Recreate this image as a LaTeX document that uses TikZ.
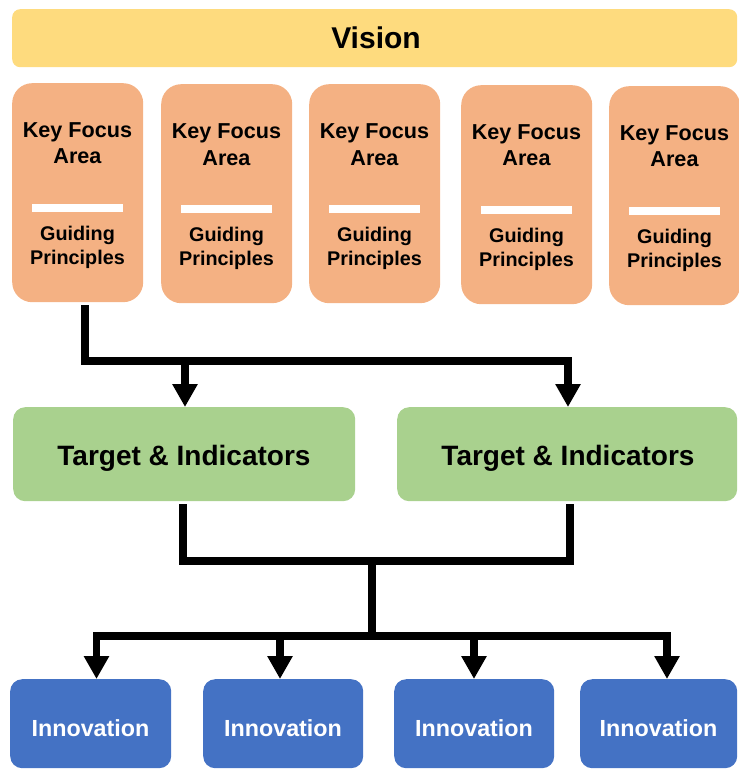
\documentclass[tikz,border=0pt]{standalone}
\usepackage{fontspec}
\setmainfont{Liberation Sans}
\usetikzlibrary{arrows.meta}
\definecolor{visionY}{HTML}{FEDB7E}
\definecolor{kfaO}{HTML}{F4B183}
\definecolor{tiG}{HTML}{A9D18E}
\definecolor{innB}{HTML}{4472C4}
\tikzset{
  kfabox/.style={fill=kfaO, draw=none, rounded corners=20pt, minimum width=131pt, minimum height=219pt, anchor=north west, inner sep=0pt},
  kfatxt/.style={font=\fontsize{21.6}{26}\selectfont\bfseries, anchor=base, inner sep=0pt},
  gptxt/.style={font=\fontsize{19.8}{24}\selectfont\bfseries, anchor=base, inner sep=0pt},
  titxt/.style={font=\fontsize{28}{32}\selectfont\bfseries, anchor=base, inner sep=0pt},
  inntxt/.style={font=\fontsize{23.3}{28}\selectfont\bfseries, text=white, anchor=base, inner sep=0pt},
  tibox/.style={fill=tiG, draw=none, rounded corners=12pt, minimum height=94pt, anchor=north west, inner sep=0pt},
  innbox/.style={fill=innB, draw=none, rounded corners=12pt, minimum height=89pt, anchor=north west, inner sep=0pt},
  conn/.style={line width=7.5pt, black},
  arr/.style={conn, -{Triangle[width=24pt,length=23pt]}}
}
\begin{document}
\begin{tikzpicture}[x=1pt,y=-1pt]
\useasboundingbox (0,0) rectangle (738,770);
% Vision
\node[fill=visionY, rounded corners=8pt, minimum width=725pt, minimum height=58pt, anchor=north west, inner sep=0pt] (vision) at (12,9) {};
\node[font=\fontsize{30}{34}\selectfont\bfseries, anchor=base, inner sep=0pt] (visiontxt) at (376,49) {Vision};
% Key focus area boxes
\foreach \i/\x/\y in {1/12/83, 2/161/84, 3/309/84, 4/461/85, 5/609/86}{
  \node[kfabox] (kfa\i) at (\x,\y) {};
  \node[kfatxt] (kfaA\i) at (\x+65.5,\y+55) {Key Focus};
  \node[kfatxt] (kfaB\i) at (\x+65.5,\y+81) {Area};
  \node[fill=white, minimum width=91pt, minimum height=8pt, inner sep=0pt, anchor=north] (bar\i) at (\x+65.5,\y+121) {};
  \node[gptxt] (gpA\i) at (\x+65.5,\y+157) {Guiding};
  \node[gptxt] (gpB\i) at (\x+65.5,\y+181) {Principles};
}
% Target boxes
\node[tibox, minimum width=342pt] (ti1) at (13,407) {};
\node[titxt] (ti1t) at (184,465) {Target \& Indicators};
\node[tibox, minimum width=340pt] (ti2) at (397,407) {};
\node[titxt] (ti2t) at (568,465) {Target \& Indicators};
% Innovation boxes
\foreach \i/\x/\w in {1/10/161, 2/203/160, 3/394/160, 4/580/157}{
  \node[innbox, minimum width=\w pt] (in\i) at (\x,679) {};
  \node[inntxt] (in\i t) at (\x+\w/2,736) {Innovation};
}
% Upper connectors
\coordinate (s1) at (85,305);
\draw[arr] (s1) |- (568,361) -- (568,407);
\draw[arr] (185,361) -- (185,407);
% Lower connectors
\coordinate (l1) at (183,504);
\coordinate (l2) at (570,504);
\draw[conn] (l1) |- (372,561) -| (l2);
\coordinate (m1) at (372,561);
\coordinate (m2) at (372,636);
\draw[conn] (m1) -- (m2);
\coordinate (a1) at (96.5,636);
\coordinate (a2) at (280,636);
\coordinate (a3) at (474,636);
\coordinate (a4) at (667,636);
\draw[arr] (a2) -- (a1) -- (a1 |- in1.north);
\draw[arr] (a3) -- (a4) -- (a4 |- in4.north);
\draw[conn] (a2) -- (a3);
\draw[arr] (a2) -- (a2 |- in2.north);
\draw[arr] (a3) -- (a3 |- in3.north);
\end{tikzpicture}
\end{document}
